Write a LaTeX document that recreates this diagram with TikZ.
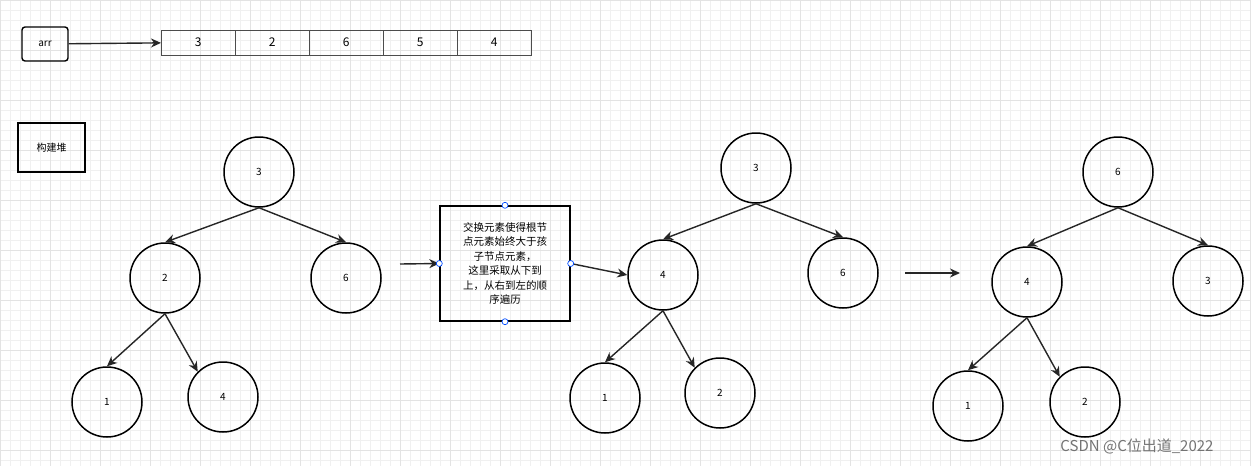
\documentclass[tikz,border=0pt]{standalone}
\usepackage{fontspec}
\setmainfont{Noto Sans CJK SC}
\usetikzlibrary{arrows.meta}
\begin{document}
\begin{tikzpicture}[x=1pt,y=-1pt,
  nd/.style={draw,line width=1.5pt,circle,minimum size=70pt,inner sep=0pt,font=\fontsize{10}{12}\selectfont},
  ar/.style={line width=1.4pt,-{Stealth[length=10pt,width=9pt]},draw=black!85},
  cell/.style={draw=black!70,minimum width=74pt,minimum height=25pt,inner sep=0pt,anchor=west,font=\fontsize{12}{14}\selectfont},
  hd/.style={draw=blue!70!cyan,fill=white,circle,inner sep=0pt,minimum size=6pt,line width=0.7pt}]
\useasboundingbox (0,0) rectangle (1251,466);
\fill[white] (0,0) rectangle (1251,466);
\foreach \i in {0,10,...,1250} \draw[black!6,line width=0.5pt] (\i,0) -- (\i,466);
\foreach \j in {0,10,...,460} \draw[black!6,line width=0.5pt] (0,\j) -- (1251,\j);
\foreach \i in {0,50,...,1250} \draw[black!11,line width=0.6pt] (\i,0) -- (\i,466);
\foreach \j in {0,50,...,450} \draw[black!11,line width=0.6pt] (0,\j) -- (1251,\j);
% arr
\node[draw,rounded corners=3pt,line width=1.4pt,minimum width=46pt,minimum height=34pt,font=\fontsize{10}{12}\selectfont] (arr) at (45,44) {arr};
\node[cell] (c1) at (161,42.5) {3};
\node[cell] (c2) at (235,42.5) {2};
\node[cell] (c3) at (309,42.5) {6};
\node[cell] (c4) at (383,42.5) {5};
\node[cell] (c5) at (457,42.5) {4};
\draw[ar] (arr) -- (c1);
\node[draw,line width=1.3pt,minimum width=67pt,minimum height=49pt,font=\fontsize{10}{12}\selectfont] (lbl) at (51.5,147.5) {构建堆};
% tree 1
\node[nd] (a3) at (259,172) {3};
\node[nd] (a2) at (165,278) {2};
\node[nd] (a6) at (346,278) {6};
\node[nd] (a1) at (107,402) {1};
\node[nd] (a4) at (223,397) {4};
\draw[ar] (a3.south) -- (a2.north);
\draw[ar] (a3.south) -- (a6.north);
\draw[ar] (a2.south) -- (a1.north);
\draw[ar] (a2.south) -- (a4.north west);
% text box
\node[draw,line width=1.4pt,minimum width=130pt,minimum height=115pt,align=center,inner sep=2pt,font=\fontsize{10.5}{14.5}\selectfont] (tb) at (505,263.5) {交换元素使得根节\\点元素始终大于孩\\子节点元素，\\这里采取从下到\\上，从右到左的顺\\序遍历};
\coordinate (s1) at (400,264);
\draw[ar] (s1) -- (tb.west);
% tree 2
\node[nd] (b3) at (756,168) {3};
\node[nd] (b4) at (663,275) {4};
\node[nd] (b6) at (843,273) {6};
\node[nd] (b1) at (605,398) {1};
\node[nd] (b2) at (720,393) {2};
\draw[ar] (tb.east) -- (b4.west);
\draw[ar] (b3.south) -- (b4.north);
\draw[ar] (b3.south) -- (b6.north);
\draw[ar] (b4.south) -- (b1.north);
\draw[ar] (b4.south) -- (b2.north west);
\node[hd] at (tb.north) {};
\node[hd] at (tb.south) {};
\node[hd] at (tb.west) {};
\node[hd] at (tb.east) {};
% tree 3
\coordinate (s2) at (905,273);
\coordinate (e2) at (960,273);
\draw[ar] (s2) -- (e2);
\node[nd] (d6) at (1118,172) {6};
\node[nd] (d4) at (1027,282) {4};
\node[nd] (d3) at (1208,281) {3};
\node[nd] (d1) at (968,406) {1};
\node[nd] (d2) at (1085,402) {2};
\draw[ar] (d6.south) -- (d4.north);
\draw[ar] (d6.south) -- (d3.north);
\draw[ar] (d4.south) -- (d1.north);
\draw[ar] (d4.south) -- (d2.north west);
\node[text=black!55,font=\fontsize{15}{17}\selectfont] (wm) at (1137,446) {CSDN @C位出道\_2022};
\end{tikzpicture}
\end{document}
